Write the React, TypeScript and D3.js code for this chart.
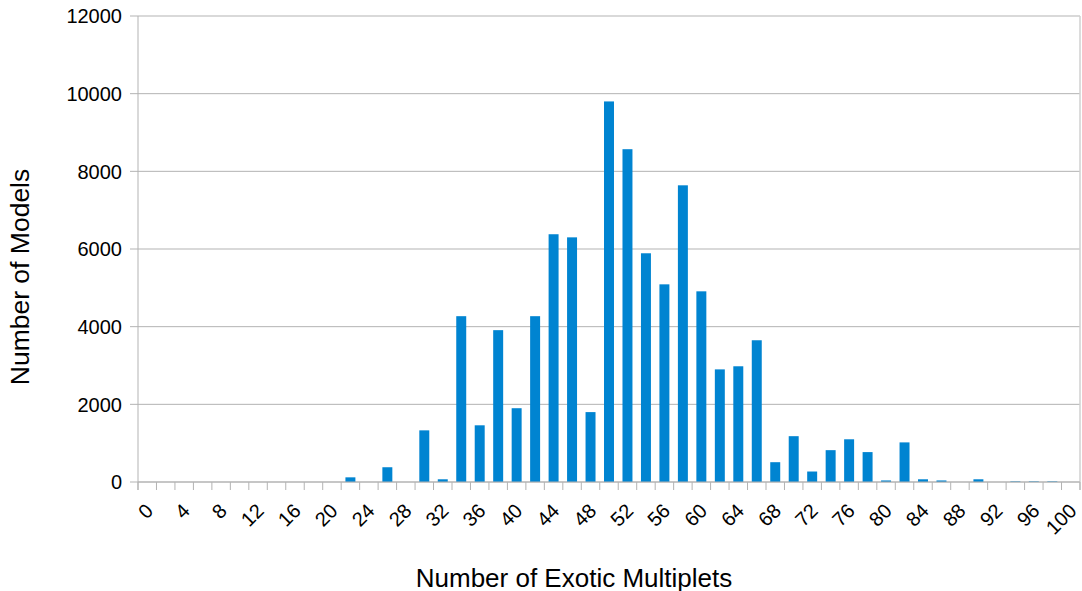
import React from "react";
import * as d3 from "d3";

const categories: number[] = [0, 2, 4, 6, 8, 10, 12, 14, 16, 18, 20, 22, 24, 26, 28, 30, 32, 34, 36, 38, 40, 42, 44, 46, 48, 50, 52, 54, 56, 58, 60, 62, 64, 66, 68, 70, 72, 74, 76, 78, 80, 82, 84, 86, 88, 90, 92, 94, 96, 98, 100];
const modelCounts: number[] = [0, 0, 0, 0, 0, 0, 0, 0, 0, 0, 0, 120, 0, 380, 0, 1330, 70, 4270, 1460, 3910, 1900, 4270, 6380, 6300, 1800, 9800, 8570, 5890, 5090, 7640, 4910, 2900, 2980, 3650, 510, 1180, 270, 820, 1100, 770, 40, 1020, 70, 40, 0, 70, 0, 15, 15, 15, 0];
const xTickLabels: number[] = [0, 4, 8, 12, 16, 20, 24, 28, 32, 36, 40, 44, 48, 52, 56, 60, 64, 68, 72, 76, 80, 84, 88, 92, 96, 100];
const yTicks: number[] = [0, 2000, 4000, 6000, 8000, 10000, 12000];

const W = 1082, H = 591;
const L = 138, R = 1080, T = 16, B = 482;
const FONT = "'Liberation Sans', Arial, sans-serif";

export default function App() {
  const x = d3.scaleBand<number>().domain(categories).range([L, R]).padding(0);
  const y = d3.scaleLinear().domain([0, 12000]).range([B, T]);
  const step = x.step();
  const bw = step * 0.54;
  const boundaries = d3.range(categories.length + 1).map((i) => L + i * step);

  return (
    <svg width={W} height={H} style={{ position: "absolute", left: 0, top: 0, background: "#fff" }} fontFamily={FONT}>
      {yTicks.map((t) => (
        <g key={"g" + t}>
          <line x1={L - 8} x2={R} y1={y(t)} y2={y(t)} stroke="#b3b3b3" strokeWidth={1} />
          <text x={122} y={y(t)} dy="0.36em" textAnchor="end" fontSize={20} fill="#000">{t}</text>
        </g>
      ))}
      <line x1={L} x2={L} y1={T} y2={B + 8} stroke="#b3b3b3" strokeWidth={1} />
      <line x1={R} x2={R} y1={T} y2={B + 8} stroke="#d0d0d0" strokeWidth={1.5} />
      {boundaries.map((bx, i) => (
        <line key={"t" + i} x1={bx} x2={bx} y1={B} y2={B + 8} stroke="#b3b3b3" strokeWidth={1} />
      ))}
      {categories.map((c, i) => (
        modelCounts[i] > 0 ? (
          <rect key={"b" + c} x={(x(c) as number) + (step - bw) / 2} y={y(modelCounts[i])} width={bw} height={B - y(modelCounts[i])} fill="#0084d1" />
        ) : null
      ))}
      <line x1={L} x2={R} y1={B} y2={B} stroke="#b3b3b3" strokeWidth={1} />
      {xTickLabels.map((t) => {
        const cx = (x(t) as number) + step / 2 - 3;
        return (
          <text key={"xl" + t} transform={`translate(${cx},${502}) rotate(-45)`} dy="0.71em" textAnchor="end" fontSize={20} fill="#000">{t}</text>
        );
      })}
      <text x={574} y={587} textAnchor="middle" fontSize={26} fill="#000">Number of Exotic Multiplets</text>
      <text transform={`translate(29,277) rotate(-90)`} textAnchor="middle" fontSize={26.5} fill="#000">Number of Models</text>
    </svg>
  );
}
